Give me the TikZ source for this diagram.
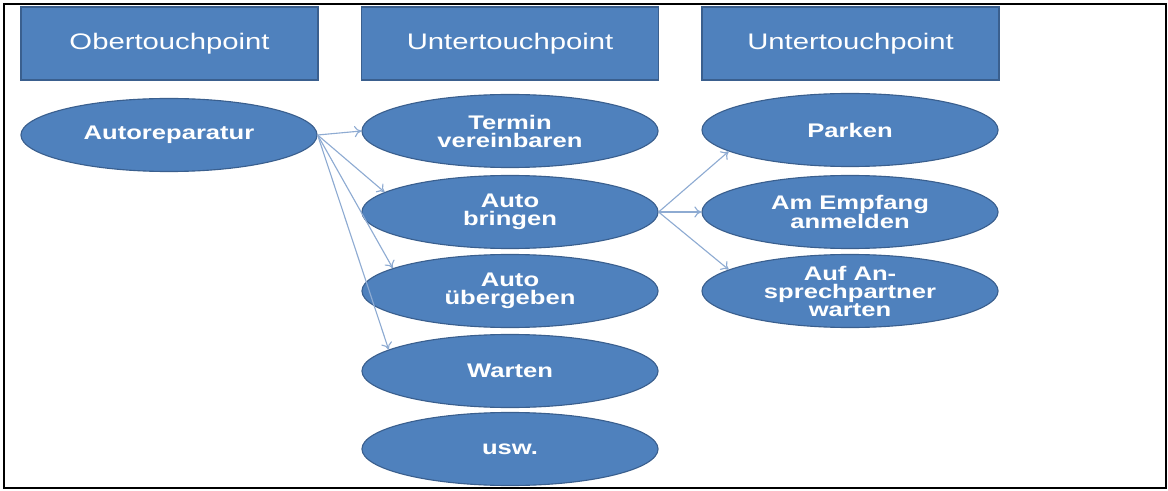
\documentclass[tikz,border=0pt]{standalone}
\usepackage{fontspec}
\usepackage{tikz}
\usetikzlibrary{shapes.geometric,arrows.meta}

\newfontfamily\tpfont[FakeStretch=1.3]{Liberation Sans}
\definecolor{tpblue}{HTML}{4F81BD}
\definecolor{tpedge}{HTML}{3A5F8E}
\definecolor{tparrow}{HTML}{8EABD2}

\tikzset{
  kopf/.style={draw=tpedge, thick, fill=tpblue, minimum width=7.425cm, minimum height=1.825cm,
               inner sep=0pt, text=white, font=\tpfont\fontsize{16}{18}\selectfont},
  oval/.style={ellipse, draw=tpedge, thick, fill=tpblue, minimum width=7.4cm, minimum height=1.825cm,
               inner sep=0pt, align=center, text=white, font=\tpfont\bfseries\fontsize{14}{12.8}\selectfont},
  pfeil/.style={draw=tparrow, line width=0.8pt, -{To[length=5pt,width=8pt]}}
}

\begin{document}
\begin{tikzpicture}[x=0.025cm, y=-0.025cm]

        \useasboundingbox (0,0) rectangle (1168,491);                   %
        \draw [line width=1.3pt]   (4,4) rectangle (1166,488);          %Rahmen

        \node [kopf] (kopfA) at (169.5,43.5) {Obertouchpoint};          %
        \node [kopf] (kopfB) at (510,43.5)   {Untertouchpoint};         %
        \node [kopf] (kopfC) at (850.5,43.5) {Untertouchpoint};         %

        \node [oval] (rep)     at (169,135)  {Autoreparatur};           %Obertouchpoint
        \node [oval] (termin)  at (510,131)  {Termin\\vereinbaren};     %
        \node [oval] (bringen) at (510,212)  {Auto\\bringen};           %
        \node [oval] (geben)   at (510,291)  {Auto\\übergeben};         %
        \node [oval] (warten)  at (510,371)  {Warten};                  %
        \node [oval] (usw)     at (510,449)  {usw.};                    %
        \node [oval] (parken)  at (850,130)  {Parken};                  %Auto bringen
        \node [oval] (empfang) at (850,212)  {Am Empfang\\anmelden};    %
        \node [oval] (partner) at (850,291)  {Auf An-\\sprechpartner\\warten};

        \draw [pfeil] (rep.east)     -- (termin.west);                  %
        \draw [pfeil] (rep.east)     -- (bringen.171);                  %
        \draw [pfeil] (rep.east)     -- (geben.169);                    %
        \draw [pfeil] (rep.east)     -- (warten.170);                   %
        \draw [pfeil] (bringen.east) -- (parken.190);                   %
        \draw [pfeil] (bringen.east) -- (empfang.west);                 %
        \draw [pfeil] (bringen.east) -- (partner.170);                  %
      \end{tikzpicture}
\end{document}
